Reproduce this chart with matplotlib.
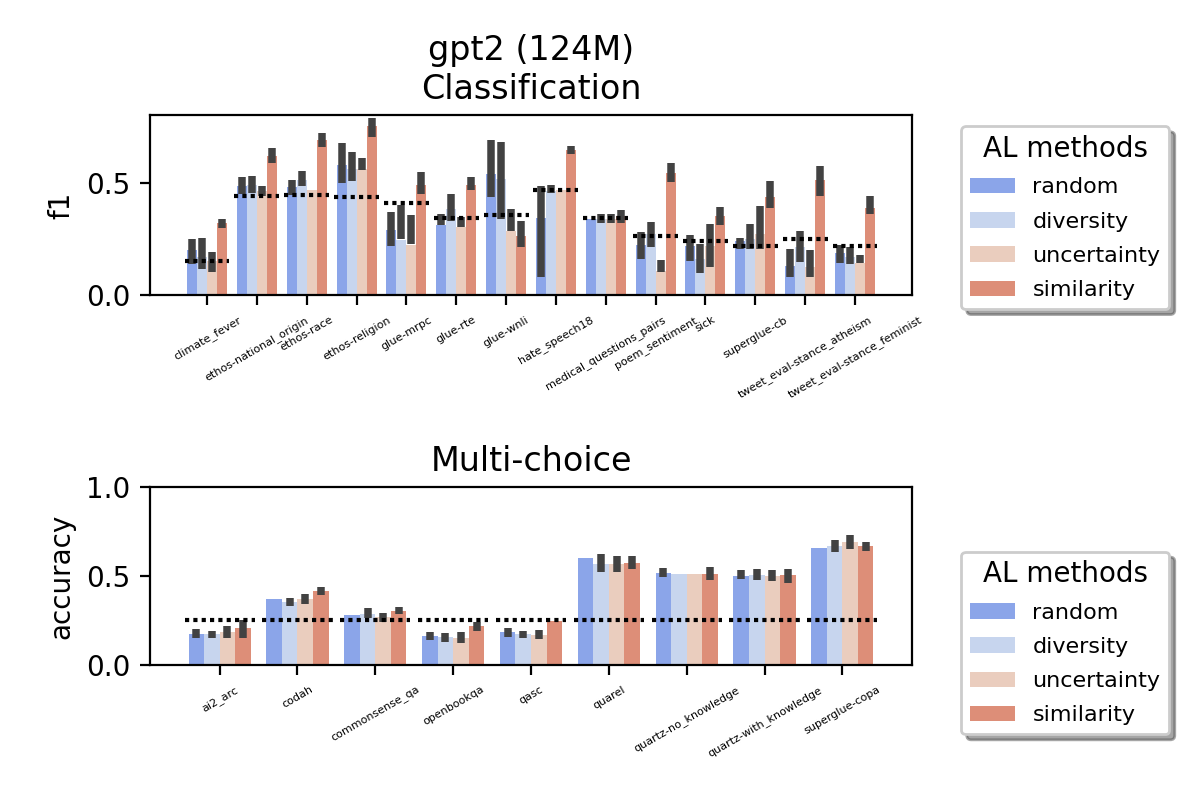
import colorsys
import numpy as np
import matplotlib
matplotlib.use("Agg")
import matplotlib.pyplot as plt

methods = ["random", "diversity", "uncertainty", "similarity"]

cls_tasks = ["climate_fever", "ethos-national_origin", "ethos-race", "ethos-religion",
             "glue-mrpc", "glue-rte", "glue-wnli", "hate_speech18",
             "medical_questions_pairs", "poem_sentiment", "sick", "superglue-cb",
             "tweet_eval-stance_atheism", "tweet_eval-stance_feminist"]

# rows = tasks, columns = random, diversity, uncertainty, similarity
cls_mean = np.array([
    [0.200, 0.170, 0.150, 0.320],
    [0.487, 0.490, 0.465, 0.620],
    [0.480, 0.510, 0.467, 0.690],
    [0.580, 0.560, 0.560, 0.754],
    [0.288, 0.245, 0.225, 0.490],
    [0.310, 0.385, 0.303, 0.490],
    [0.540, 0.518, 0.287, 0.263],
    [0.342, 0.461, 0.469, 0.647],
    [0.338, 0.338, 0.338, 0.350],
    [0.223, 0.270, 0.107, 0.543],
    [0.219, 0.159, 0.220, 0.353],
    [0.240, 0.250, 0.270, 0.436],
    [0.129, 0.216, 0.126, 0.513],
    [0.186, 0.171, 0.141, 0.387],
])
cls_lo = np.array([
    [0.140, 0.115, 0.105, 0.298],
    [0.451, 0.454, 0.442, 0.588],
    [0.446, 0.484, 0.467, 0.658],
    [0.499, 0.508, 0.555, 0.704],
    [0.220, 0.249, 0.226, 0.450],
    [0.310, 0.328, 0.303, 0.467],
    [0.437, 0.338, 0.287, 0.213],
    [0.082, 0.454, 0.469, 0.628],
    [0.338, 0.323, 0.323, 0.320],
    [0.161, 0.216, 0.104, 0.501],
    [0.153, 0.097, 0.127, 0.312],
    [0.204, 0.204, 0.204, 0.387],
    [0.082, 0.146, 0.082, 0.443],
    [0.141, 0.137, 0.141, 0.362],
])
cls_hi = np.array([
    [0.250, 0.253, 0.190, 0.338],
    [0.525, 0.531, 0.487, 0.655],
    [0.512, 0.552, 0.467, 0.722],
    [0.677, 0.637, 0.610, 0.789],
    [0.372, 0.402, 0.356, 0.548],
    [0.363, 0.448, 0.348, 0.527],
    [0.688, 0.682, 0.384, 0.330],
    [0.484, 0.488, 0.469, 0.665],
    [0.338, 0.360, 0.360, 0.379],
    [0.280, 0.325, 0.156, 0.588],
    [0.268, 0.226, 0.316, 0.394],
    [0.253, 0.316, 0.396, 0.509],
    [0.204, 0.284, 0.200, 0.573],
    [0.225, 0.216, 0.180, 0.439],
])
cls_base = [0.153, 0.442, 0.446, 0.4375, 0.408, 0.345, 0.357, 0.469,
            0.341, 0.263, 0.243, 0.219, 0.249, 0.220]

mc_tasks = ["ai2_arc", "codah", "commonsense_qa", "openbookqa", "qasc", "quarel",
            "quartz-no_knowledge", "quartz-with_knowledge", "superglue-copa"]

mc_mean = np.array([
    [0.174, 0.174, 0.185, 0.208],
    [0.371, 0.354, 0.371, 0.416],
    [0.281, 0.287, 0.270, 0.303],
    [0.163, 0.157, 0.152, 0.219],
    [0.185, 0.174, 0.169, 0.247],
    [0.601, 0.567, 0.567, 0.573],
    [0.517, 0.511, 0.511, 0.511],
    [0.500, 0.506, 0.500, 0.506],
    [0.657, 0.669, 0.691, 0.669],
])
mc_lo = np.array([
    [0.150, 0.150, 0.150, 0.150],
    [0.371, 0.331, 0.341, 0.393],
    [0.281, 0.266, 0.243, 0.285],
    [0.140, 0.131, 0.122, 0.193],
    [0.159, 0.150, 0.144, 0.247],
    [0.601, 0.520, 0.520, 0.537],
    [0.493, 0.511, 0.511, 0.478],
    [0.481, 0.478, 0.472, 0.462],
    [0.657, 0.633, 0.650, 0.640],
])
mc_hi = np.array([
    [0.200, 0.190, 0.219, 0.253],
    [0.371, 0.375, 0.397, 0.436],
    [0.281, 0.318, 0.294, 0.328],
    [0.187, 0.180, 0.184, 0.243],
    [0.210, 0.190, 0.197, 0.247],
    [0.601, 0.624, 0.612, 0.612],
    [0.543, 0.511, 0.511, 0.549],
    [0.534, 0.538, 0.534, 0.538],
    [0.657, 0.700, 0.729, 0.689],
])
mc_base = [0.25] * len(mc_tasks)


def desaturate(c, prop=0.75):
    h, l, s = colorsys.rgb_to_hls(*c[:3])
    return colorsys.hls_to_rgb(h, l, s * prop)


cmap = plt.get_cmap("coolwarm")
colors = [desaturate(cmap(v)) for v in np.linspace(0, 1, len(methods) + 2)[1:-1]]


def grouped_bars(ax, tasks, mean, lo, hi, base, ylabel, title, ylim):
    x = np.arange(len(tasks))
    w = 0.8 / len(methods)
    for j, m in enumerate(methods):
        pos = x - 0.4 + w * (j + 0.5)
        ax.bar(pos, mean[:, j], width=w, color=colors[j], label=m)
        ax.vlines(pos, lo[:, j], hi[:, j], color=".26", lw=2.7, zorder=3)
    for i, b in enumerate(base):
        ax.plot([i - 0.45, i + 0.45], [b, b], color="k", ls=(0, (1, 1.0)),
                lw=1.5, zorder=4)
    ax.set_xticks(x)
    ax.set_xticklabels(tasks, rotation=30, fontsize=4)
    ax.set_ylim(*ylim)
    ax.set_ylabel(ylabel)
    ax.set_title(title)


fig = plt.figure(figsize=(6, 4), dpi=200)
ax1 = fig.add_axes([0.125, 0.631, 0.635, 0.225])
ax2 = fig.add_axes([0.125, 0.169, 0.635, 0.222])

grouped_bars(ax1, cls_tasks, cls_mean, cls_lo, cls_hi, cls_base,
             "f1", "gpt2 (124M)\nClassification", (0, 0.8))
grouped_bars(ax2, mc_tasks, mc_mean, mc_lo, mc_hi, mc_base,
             "accuracy", "Multi-choice", (0, 1.0))

ax1.legend(title="AL methods", fontsize=8, title_fontsize=10, shadow=True,
           labelspacing=0.64, loc="upper left", bbox_to_anchor=(1.05, 1))
ax2.legend(title="AL methods", fontsize=8, title_fontsize=10, shadow=True,
           labelspacing=0.64, loc="upper left", bbox_to_anchor=(1.05, 0.7))

fig.savefig("out.png", dpi=200)
